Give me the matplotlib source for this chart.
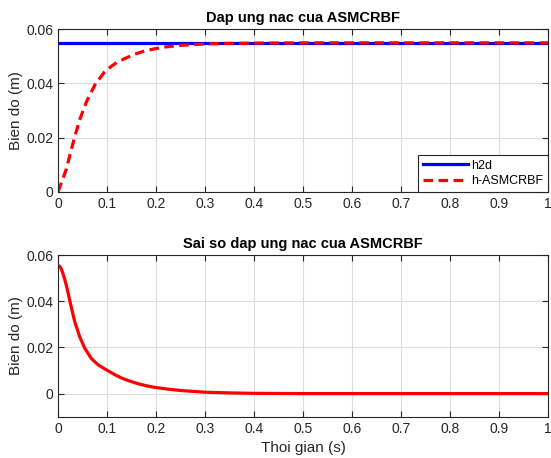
import matplotlib.pyplot as plt
import numpy as np

plt.rcParams['font.family'] = ['Liberation Sans', 'DejaVu Sans']

t_h = [0, 0.008, 0.017, 0.024, 0.034, 0.044, 0.058, 0.075, 0.095, 0.11, 0.122, 0.14, 0.156, 0.175, 0.197, 0.22, 0.245, 0.27, 0.3, 0.35, 0.4, 0.5, 0.6, 0.8, 1.0]
h = [0, 0.0038, 0.0084, 0.0134, 0.0202, 0.0265, 0.0332, 0.0394, 0.0443, 0.0465, 0.048, 0.0495, 0.0508, 0.0519, 0.0528, 0.0535, 0.054, 0.0543, 0.0546, 0.0548, 0.0549, 0.055, 0.055, 0.055, 0.055]
t_d = [0, 1.0]
h2d = [0.055, 0.055]

t_e = [0, 0.0034, 0.0068, 0.01, 0.0136, 0.017, 0.0204, 0.0272, 0.034, 0.044, 0.0544, 0.068, 0.0816, 0.1, 0.115, 0.129, 0.145, 0.163, 0.18, 0.197, 0.225, 0.252, 0.3, 0.35, 0.4, 0.5, 0.7, 1.0]
err = [0.0555, 0.0551, 0.0539, 0.052, 0.0495, 0.0468, 0.0437, 0.0373, 0.0313, 0.0247, 0.0197, 0.0152, 0.0125, 0.0101, 0.0083, 0.0068, 0.0055, 0.0043, 0.0034, 0.0027, 0.0019, 0.0013, 0.0006, 0.0003, 0.0001, 0, 0, 0]

xticks = np.arange(0, 1.01, 0.1)
xlabels = ['0', '0.1', '0.2', '0.3', '0.4', '0.5', '0.6', '0.7', '0.8', '0.9', '1']

fig = plt.figure(figsize=(5.51, 4.58), dpi=100)
ax1 = fig.add_axes([0.1053, 0.5814, 0.8893, 0.3546])
ax2 = fig.add_axes([0.1053, 0.0902, 0.8893, 0.3530])

def style(ax):
    ax.set_xlim(0, 1)
    ax.set_xticks(xticks)
    ax.set_xticklabels(xlabels)
    ax.grid(True, color='#dcdcdc', linewidth=0.8)
    ax.set_axisbelow(True)
    ax.tick_params(direction='in', top=True, right=True, labelsize=10,
                   colors='#262626', length=4)
    for s in ax.spines.values():
        s.set_color('#262626')
        s.set_linewidth(0.8)

ax1.plot(t_d, h2d, color='#0000ff', lw=2.3, label='h2d')
ax1.plot(t_h, h, color='#ff0000', lw=2.3, ls=(0, (3, 1.7)), label='h-ASMCRBF')
ax1.set_ylim(0, 0.06)
ax1.set_yticks([0, 0.02, 0.04, 0.06])
ax1.set_yticklabels(['0', '0.02', '0.04', '0.06'])
style(ax1)
ax1.set_ylabel('Bien do (m)', fontsize=11, color='#262626', labelpad=2)
ax1.set_title('Dap ung nac cua ASMCRBF', fontsize=10.5, fontweight='bold', pad=5)
leg = ax1.legend(loc='lower right', fontsize=9, fancybox=False, edgecolor='#262626',
                 framealpha=1, borderaxespad=0, handlelength=3.6,
                 borderpad=0.35, labelspacing=0.3, handletextpad=0.3)
leg.get_frame().set_linewidth(0.8)

ax2.plot(t_e, err, color='#ff0000', lw=2.3)
ax2.set_ylim(-0.01, 0.06)
ax2.set_yticks([0, 0.02, 0.04, 0.06])
ax2.set_yticklabels(['0', '0.02', '0.04', '0.06'])
style(ax2)
ax2.set_ylabel('Bien do (m)', fontsize=11, color='#262626', labelpad=2)
ax2.set_xlabel('Thoi gian (s)', fontsize=11, color='#262626')
ax2.set_title('Sai so dap ung nac cua ASMCRBF', fontsize=10.5, fontweight='bold', pad=5)

fig.savefig('out.png', dpi=100)
